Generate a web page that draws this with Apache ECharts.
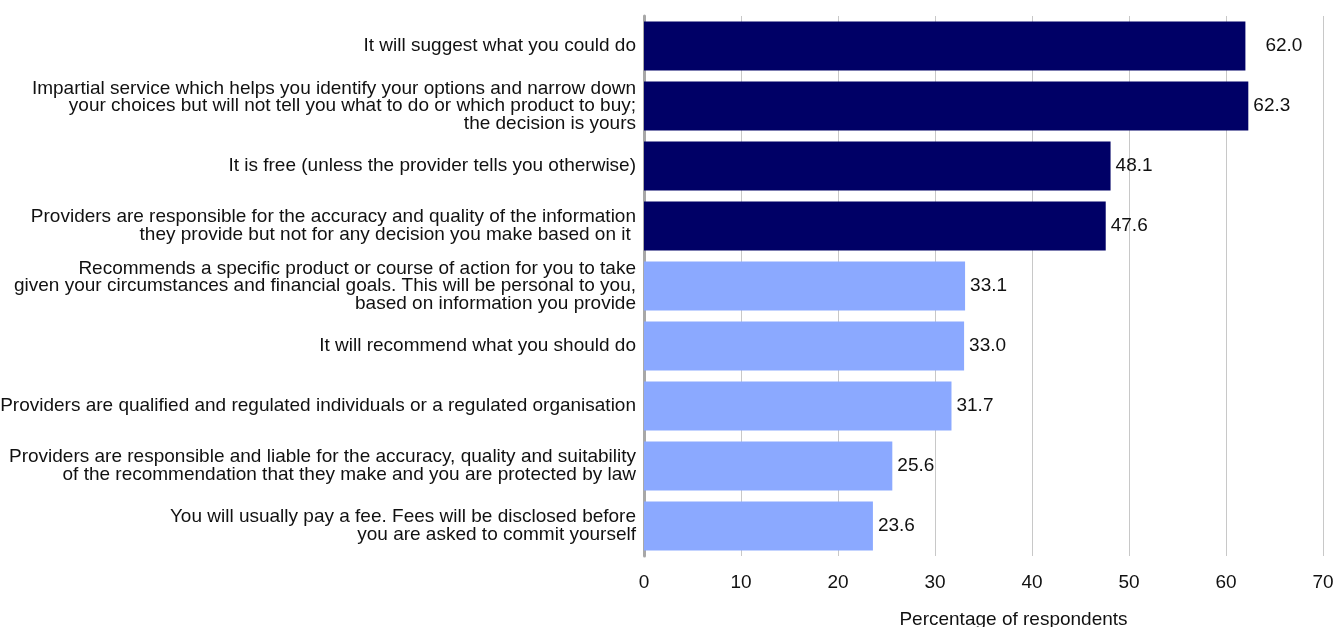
<!DOCTYPE html>
<html>
<head>
<meta charset="utf-8">
<script src="https://cdn.jsdelivr.net/npm/echarts@6/dist/echarts.min.js"></script>
<style>
  html, body { margin: 0; padding: 0; background: #ffffff; }
  #chart { width: 1333px; height: 627px; }
</style>
</head>
<body>
<div id="chart"></div>
<script>
// Statements, listed top to bottom
const categories = [
  'It will suggest what you could do',
  'Impartial service which helps you identify your options and narrow down\nyour choices but will not tell you what to do or which product to buy;\nthe decision is yours',
  'It is free (unless the provider tells you otherwise)',
  'Providers are responsible for the accuracy and quality of the information\nthey provide but not for any decision you make based on it ',
  'Recommends a specific product or course of action for you to take\ngiven your circumstances and financial goals. This will be personal to you,\nbased on information you provide',
  'It will recommend what you should do',
  'Providers are qualified and regulated individuals or a regulated organisation',
  'Providers are responsible and liable for the accuracy, quality and suitability\nof the recommendation that they make and you are protected by law',
  'You will usually pay a fee. Fees will be disclosed before\nyou are asked to commit yourself'
];
const values = [62.0, 62.3, 48.1, 47.6, 33.1, 33.0, 31.7, 25.6, 23.6];
// 'guidance' statements are dark, 'advice' statements are light
const groups = ['guidance', 'guidance', 'guidance', 'guidance', 'advice', 'advice', 'advice', 'advice', 'advice'];
const xTicks = [0, 10, 20, 30, 40, 50, 60, 70];

const groupColors = { guidance: '#000066', advice: '#8ba9ff' };
const font = '"Liberation Sans", Arial, Helvetica, sans-serif';
const textColor = '#111111';

const chart = echarts.init(document.getElementById('chart'), null, { renderer: 'canvas' });

chart.setOption({
  animation: false,
  grid: {
    left: 644, right: 10, top: 16, height: 540,
    containLabel: false,
    outerBoundsMode: 'none'
  },
  xAxis: {
    type: 'value',
    min: xTicks[0],
    max: xTicks[xTicks.length - 1],
    interval: 10,
    name: 'Percentage of respondents',
    nameLocation: 'middle',
    nameGap: 54,
    nameTextStyle: { fontFamily: font, fontSize: 19, color: textColor, padding: [0, 0, 0, 60] },
    axisLine: { show: false },
    axisTick: { show: false },
    axisLabel: { fontFamily: font, fontSize: 19, color: textColor, margin: 17 },
    splitLine: { show: true, lineStyle: { color: '#c8c8c8', width: 1 } }
  },
  yAxis: {
    type: 'category',
    inverse: true,
    data: categories,
    axisLine: { show: true, lineStyle: { color: '#a8a8a8', width: 3 } },
    axisTick: { show: false },
    axisLabel: {
      fontFamily: font, fontSize: 19, color: textColor,
      lineHeight: 17.5, align: 'right', margin: 8
    }
  },
  series: [{
    type: 'bar',
    barCategoryGap: '18%',
    z: 3,
    data: values.map((v, i) => ({
      value: v,
      itemStyle: { color: groupColors[groups[i]] },
      label: i === 0 ? { distance: 20 } : undefined
    })),
    label: {
      show: true,
      position: 'right',
      distance: 5,
      fontFamily: font,
      fontSize: 19,
      color: textColor,
      formatter: p => p.value.toFixed(1)
    }
  }]
});
</script>
</body>
</html>
